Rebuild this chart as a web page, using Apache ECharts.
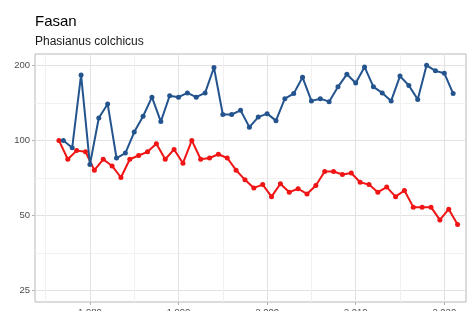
<!DOCTYPE html>
<html>
<head>
<meta charset="utf-8">
<script src="https://cdn.jsdelivr.net/npm/echarts@6/dist/echarts.min.js"></script>
<style>
html,body{margin:0;padding:0;background:#fff;}
#chart{width:468px;height:311px;}
</style>
</head>
<body>
<div id="chart"></div>
<script>
// ---- data ----
const titleText = 'Fasan';
const subtitleText = 'Phasianus colchicus';

const blueStartYear = 1977;
const blueValues = [100, 93.5, 183, 80, 123, 140, 85, 89, 108, 125,
                    149, 119, 151, 149, 155, 149, 155, 196, 127, 127,
                    132, 113, 124, 128, 120, 147, 154, 179, 144, 147,
                    143, 164, 184, 170, 197, 164, 155, 144, 181, 166,
                    146, 200, 190, 186, 154];

const redStartYear = 1976.5;
const redValues = [100, 84, 91, 90, 76, 84, 79, 71, 84, 87,
                   90, 97, 84, 92, 81, 100, 84, 85, 88, 85,
                   76, 69.5, 64.5, 66.5, 59.5, 67, 62, 64, 61, 66,
                   75, 75, 73, 74, 68, 66.5, 62, 65, 59.5, 63,
                   54, 54, 54, 48, 53, 46];

const xTicks = [1980, 1990, 2000, 2010, 2020];
const xMinorTicks = [1975, 1985, 1995, 2005, 2015];
const yTicks = [25, 50, 100, 200];
const yMinorTicks = [35.36, 70.71, 141.42];

const xMin = 1973.8, xMax = 2022.45;
const yMin = 22.5, yMax = 222;

// ---- build ----
const blueData = blueValues.map((v, i) => [blueStartYear + i, v]);
const redData = redValues.map((v, i) => [redStartYear + i, v]);

const FONT = 'Liberation Sans, Arial, sans-serif';
const grid = {left: 35, top: 54, width: 431, height: 248};

const chart = echarts.init(document.getElementById('chart'), null, {renderer: 'canvas'});
chart.setOption({
  animation: false,
  backgroundColor: '#ffffff',
  title: [
    {text: titleText, left: 30, top: 9, textStyle: {fontFamily: FONT, fontSize: 15, fontWeight: 'normal', color: '#000'}},
    {text: subtitleText, left: 30, top: 31, textStyle: {fontFamily: FONT, fontSize: 12, fontWeight: 'normal', color: '#1a1a1a'}}
  ],
  grid: [Object.assign({show: true, borderColor: '#b8b8b8', borderWidth: 1, backgroundColor: 'transparent',
                        containLabel: false, outerBoundsMode: 'none'}, grid)],
  xAxis: [
    {
      type: 'value', min: xMin, max: xMax, gridIndex: 0, position: 'bottom',
      axisLine: {show: false},
      axisTick: {show: true, length: 3, customValues: xTicks, lineStyle: {color: '#b3b3b3'}},
      axisLabel: {show: true, margin: 5, customValues: xTicks, fontFamily: FONT, fontSize: 9.5, color: '#4d4d4d'},
      splitLine: {show: true, lineStyle: {color: '#e2e2e2', width: 1}}
    },
    {
      type: 'value', min: xMin, max: xMax, gridIndex: 0, position: 'bottom',
      axisLine: {show: false},
      axisTick: {show: false, customValues: xMinorTicks},
      axisLabel: {show: false, customValues: xMinorTicks},
      splitLine: {show: true, lineStyle: {color: '#f1f1f1', width: 1}}
    }
  ],
  yAxis: [
    {
      type: 'log', logBase: 2, min: yMin, max: yMax, gridIndex: 0,
      axisLine: {show: false}, axisTick: {show: false}, axisLabel: {show: false}, splitLine: {show: false}
    },
    {
      type: 'value', min: Math.log2(yMin), max: Math.log2(yMax), gridIndex: 0, position: 'left',
      axisLine: {show: false},
      axisTick: {show: true, length: 3, customValues: yTicks.map(Math.log2), lineStyle: {color: '#b3b3b3'}},
      axisLabel: {show: true, margin: 5, customValues: yTicks.map(Math.log2), fontFamily: FONT, fontSize: 9.5, color: '#4d4d4d',
                  formatter: v => String(Math.round(Math.pow(2, v)))},
      splitLine: {show: true, lineStyle: {color: '#e2e2e2', width: 1}}
    },
    {
      type: 'value', min: Math.log2(yMin), max: Math.log2(yMax), gridIndex: 0, position: 'left',
      axisLine: {show: false},
      axisTick: {show: false, customValues: yMinorTicks.map(Math.log2)},
      axisLabel: {show: false, customValues: yMinorTicks.map(Math.log2)},
      splitLine: {show: true, lineStyle: {color: '#f1f1f1', width: 1}}
    }
  ],
  series: [
    {
      type: 'line', xAxisIndex: 0, yAxisIndex: 0, data: redData,
      symbol: 'circle', symbolSize: 5, showSymbol: true,
      lineStyle: {color: '#f01414', width: 2}, itemStyle: {color: '#f01414'}, z: 3
    },
    {
      type: 'line', xAxisIndex: 0, yAxisIndex: 0, data: blueData,
      symbol: 'circle', symbolSize: 5, showSymbol: true,
      lineStyle: {color: '#23548e', width: 2}, itemStyle: {color: '#23548e'}, z: 4
    }
  ]
});
</script>
</body>
</html>
